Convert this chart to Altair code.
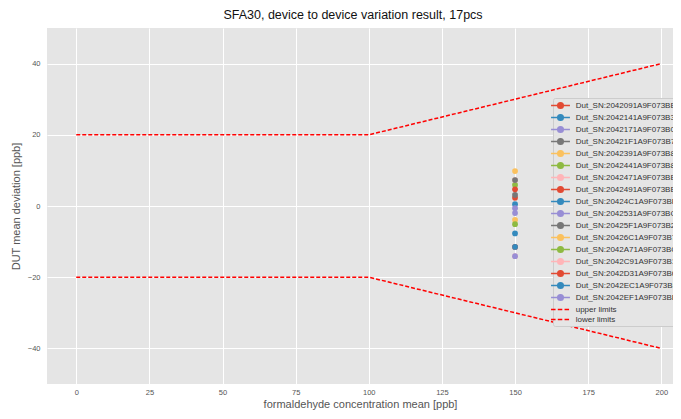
import altair as alt
import pandas as pd

# ---- data ----
devices = [
    "Dut_SN:2042091A9F073BEB", "Dut_SN:2042141A9F073B3F", "Dut_SN:2042171A9F073B06",
    "Dut_SN:20421F1A9F073B73", "Dut_SN:2042391A9F073B82", "Dut_SN:2042441A9F073B84",
    "Dut_SN:2042471A9F073BBD", "Dut_SN:2042491A9F073BBA", "Dut_SN:20424C1A9F073BF1",
    "Dut_SN:2042531A9F073BC6", "Dut_SN:20425F1A9F073B22", "Dut_SN:20426C1A9F073B72",
    "Dut_SN:2042A71A9F073BCD", "Dut_SN:2042C91A9F073B18", "Dut_SN:2042D31A9F073B64",
    "Dut_SN:2042EC1A9F073BD0", "Dut_SN:2042EF1A9F073BE9",
]
dev_conc = [150, 150, 150, 150, 150, 150, 150, 150, 150, 150, 150, 150, 150, 150, 150, 150, 150]
dev_deviation = [2.3, 0.5, -0.6, 3.1, 9.8, 5.9, 7.3, 4.7, -7.7, -2.0, 7.3, -3.9, -5.1, -14.1, -11.5, -11.5, -14.1]

limit_names = ["upper limits", "lower limits"]
limit_conc = [0, 100, 200]
upper_limit = [20, 20, 40]
lower_limit = [-20, -20, -40]

palette = ["#E24A33", "#348ABD", "#988ED5", "#777777", "#FBC15E", "#8EBA42", "#FFB5B8"]
x_ticks = [0, 25, 50, 75, 100, 125, 150, 175, 200]
y_ticks = [-40, -20, 0, 20, 40]

# ---- tables ----
pts = pd.DataFrame({"series": devices, "x": dev_conc, "y": dev_deviation})
lim = pd.DataFrame({
    "series": [limit_names[0]] * 3 + [limit_names[1]] * 3,
    "x": limit_conc + limit_conc,
    "y": upper_limit + lower_limit,
})

domain = devices + limit_names
colors = [palette[i % len(palette)] for i in range(len(devices))] + ["#FF0000", "#FF0000"]
# legend glyphs (unit = half of sqrt(symbolSize) = 4.5 px)
marker_path = "M-2.1,0L2.1,0M0.62,0A0.62,0.62,0,1,1,-0.62,0A0.62,0.62,0,1,1,0.62,0Z"
dash_path = "M-2.1,0L-1.1,0M-0.6,0L0.4,0M0.9,0L1.9,0"
shapes = [marker_path] * len(devices) + [dash_path, dash_path]

col_scale = alt.Scale(domain=domain, range=colors)
shape_scale = alt.Scale(domain=domain, range=shapes)

FONT = "Liberation Sans"

xenc = alt.X("x:Q", scale=alt.Scale(domain=[-10, 204], nice=False, zero=False),
             axis=alt.Axis(values=x_ticks, title="formaldehyde concentration mean [ppb]"))
yenc = alt.Y("y:Q", scale=alt.Scale(domain=[-50, 50], nice=False, zero=False),
             axis=alt.Axis(values=y_ticks, title="DUT mean deviation [ppb]",
                           labelExpr="replace(datum.label, '-', '\u2212')"))

leg = alt.Legend(
    title=None, orient="none", legendX=506, legendY=70,
    fillColor="#E5E5E5", strokeColor="#CCCCCC", padding=2, cornerRadius=2,
    labelFont=FONT, labelFontSize=8, labelColor="#333333", labelOffset=9.7,
    symbolSize=81, symbolStrokeWidth=1.5, symbolOpacity=1,
    symbolFillColor="#000000", symbolStrokeColor="#000000",
    rowPadding=-2.4, symbolLimit=50, labelLimit=300,
)

legend_layer = alt.Chart(pts).transform_filter("false").mark_point(filled=True, opacity=1).encode(
    x=xenc, y=yenc,
    fill=alt.Fill("series:N", scale=col_scale, legend=leg),
    stroke=alt.Stroke("series:N", scale=col_scale, legend=leg),
    shape=alt.Shape("series:N", scale=shape_scale, legend=leg),
)

lines = alt.Chart(lim).mark_line(strokeWidth=1.5).encode(
    x=xenc, y=yenc,
    stroke=alt.Stroke("series:N", scale=col_scale, legend=leg),
    strokeDash=alt.value([4, 2]),
    order=alt.Order("x:Q"),
)

points = alt.Chart(pts).mark_point(filled=True, opacity=1, size=33).encode(
    x=xenc, y=yenc,
    fill=alt.Fill("series:N", scale=col_scale, legend=leg),
)

chart = alt.layer(legend_layer, lines, points).properties(
    width=626, height=356,
    padding={"left": 39, "top": 20, "right": 0, "bottom": 27},
    autosize=alt.AutoSizeParams(type="none"),
    title=alt.Title("SFA30, device to device variation result, 17pcs",
                    font=FONT, fontSize=12.5, fontWeight="normal", color="#111111",
                    offset=7, dx=-7),
).configure_view(
    fill="#E5E5E5", strokeWidth=0,
).configure_axis(
    grid=True, gridColor="#FFFFFF", gridWidth=1, gridOpacity=1,
    domain=False, ticks=False, tickSize=0,
    labelFont=FONT, labelFontSize=7.5, labelColor="#555555",
    titleFont=FONT, titleFontSize=11, titleFontWeight="normal", titleColor="#555555",
).configure_axisX(
    labelPadding=4, titlePadding=3,
).configure_axisY(
    labelPadding=7, titlePadding=6,
)

chart.save("out.html", embed_options={"renderer": "svg", "actions": False})
